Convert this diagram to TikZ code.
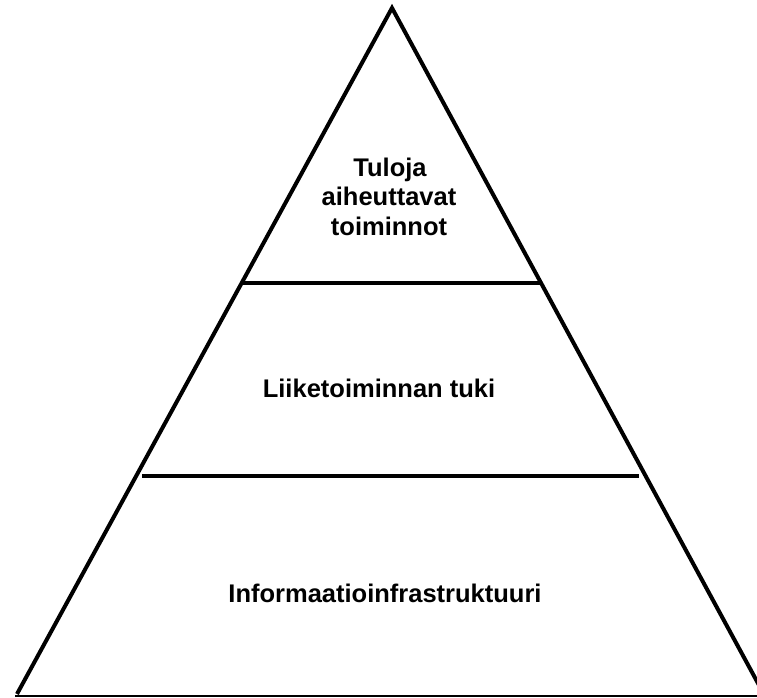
\documentclass[tikz,border=0pt]{standalone}
\usepackage{fontspec}
\setmainfont{Liberation Sans}
\begin{document}
\begin{tikzpicture}[x=1pt,y=1pt,
  edge/.style={line width=4pt,line join=miter,line cap=butt},
  divider/.style={line width=4pt},
  baseline rule/.style={line width=1.6pt},
  label/.style={anchor=base,inner sep=0pt,font=\fontsize{25.5}{29.7}\selectfont\bfseries}]
\useasboundingbox (0,0) rectangle (757,698);
% outline of the pyramid
\coordinate (apex) at (392,690);
\coordinate (bl) at (17,4);
\coordinate (br) at (760,11);
\coordinate (b0) at (15,2);
\coordinate (b1) at (757,2);
\draw[edge] (bl) -- (apex) -- (br);
\draw[baseline rule] (b0) -- (b1);
% level dividers
\coordinate (d1l) at (243,415);
\coordinate (d1r) at (540,415);
\coordinate (d2l) at (142,222);
\coordinate (d2r) at (639,222);
\draw[divider] (d1l) -- (d1r);
\draw[divider] (d2l) -- (d2r);
% level labels
\node[label] (t1) at (390,521.3) {Tuloja};
\node[label] (t2) at (389,492) {aiheuttavat};
\node[label] (t3) at (389,462) {toiminnot};
\node[label] (mid) at (379,300.3) {Liiketoiminnan tuki};
\node[label] (low) at (385,95.3) {Informaatioinfrastruktuuri};
\end{tikzpicture}
\end{document}
